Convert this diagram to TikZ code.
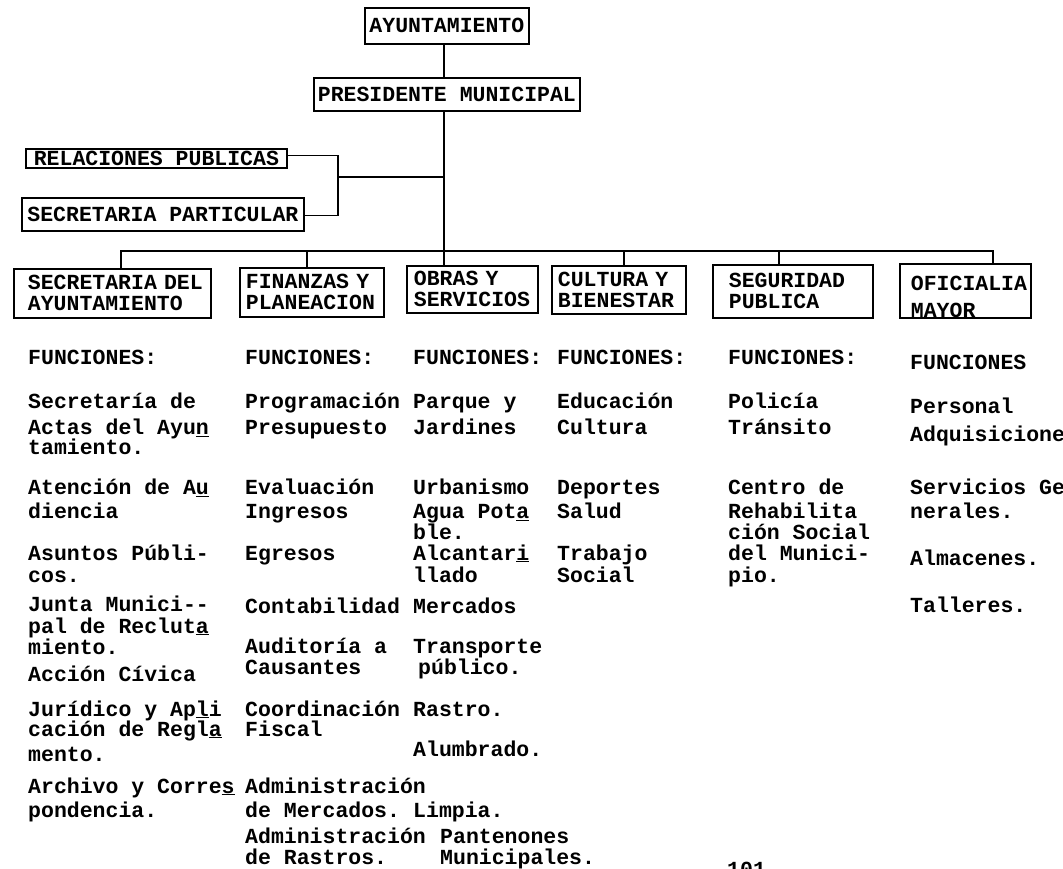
\documentclass[tikz,border=0pt]{standalone}
\usepackage{fontspec}
\newfontfamily\tw{Liberation Mono}
\newcommand{\twf}{\tw\bfseries\fontsize{21.5}{21}\selectfont}
\begin{document}
\begin{tikzpicture}[x=1pt,y=-1pt,
  ln/.style={line width=1.5pt},
  bx/.style={draw, line width=1.8pt, anchor=north west, inner sep=0pt, font=\twf},
  bx2/.style={bx, align=left},
  tx/.style={anchor=base west, inner sep=0pt, font=\twf}]
\useasboundingbox (0,0) rectangle (1063,869);
\clip (0,0) rectangle (1063,869);
\fill[white] (0,0) rectangle (1063,869);

% top boxes
\node[bx, minimum width=164pt, minimum height=36pt] (ayu) at (364,7) {AYUNTAMIENTO};
\node[bx, minimum width=266pt, minimum height=33pt] (pres) at (313,77) {PRESIDENTE MUNICIPAL};
\node[bx, minimum width=261pt, minimum height=19pt] (rel) at (25,148) {RELACIONES PUBLICAS};
\node[bx, minimum width=282pt, minimum height=33pt] (spar) at (21,197) {SECRETARIA PARTICULAR};

% department boxes
\node[bx2, minimum width=197pt, text width=197pt, minimum height=49pt] (secd) at (13,268)
  {\hspace*{14pt}SECRETARIA DEL\\\hspace*{14pt}AYUNTAMIENTO};
\node[bx2, minimum width=144pt, text width=144pt, minimum height=49pt] (fin) at (239,267)
  {\hspace*{6pt}FINANZAS Y\\\hspace*{6pt}PLANEACION};
\node[bx2, minimum width=131pt, text width=131pt, minimum height=47pt] (obr) at (406,265)
  {\hspace*{7pt}OBRAS Y\\\hspace*{7pt}SERVICIOS};
\node[bx2, minimum width=134pt, text width=134pt, minimum height=48pt] (cul) at (551,265)
  {\hspace*{6pt}CULTURA Y\\\hspace*{6pt}BIENESTAR};
\node[bx2, minimum width=160pt, text width=160pt, minimum height=53pt] (seg) at (712,264)
  {\hspace*{16pt}SEGURIDAD\\\hspace*{16pt}PUBLICA};
\node[bx2, minimum width=131pt, text width=131pt, minimum height=52pt] (ofi) at (899,263)
  {\hspace*{11pt}\rule{0pt}{27pt}OFICIALIA\\[6pt]\hspace*{11pt}MAYOR};

% connectors
\coordinate (j) at (444,251);
\coordinate (bl) at (121,251);
\coordinate (br) at (993,251);
\coordinate (dfin) at (307,251);
\coordinate (dcul) at (624,251);
\coordinate (dseg) at (779,251);
\coordinate (k) at (338,177);
\draw[ln] (ayu.south -| j) -- (pres.north -| j);
\draw[ln] (pres.south -| j) -- (obr.north -| j);
\draw[ln] (bl |- secd.north) -- (bl) -- (br) -- (br |- ofi.north);
\draw[ln] (dfin) -- (dfin |- fin.north);
\draw[ln] (dcul) -- (dcul |- cul.north);
\draw[ln] (dseg) -- (dseg |- seg.north);
\draw[ln] ([yshift=3pt]rel.east) -| (k);
\draw[ln] ([yshift=-1pt]spar.east) -| (k);
\draw[ln] (k) -- (k -| j);

% column 1
\foreach \yy/\t [count=\n] in {
 364/FUNCIONES:, 408/Secretaría de, 434.5/Actas del Ayu\underline{n}, 454.5/tamiento.,
 494.5/Atención de A\underline{u}, 518.5/diencia, 560/Asuntos Públi-, 582/cos.,
 611/Junta Munici-\kern0pt-, 633/pal de Reclut\underline{a}, 654/miento., 681/Acción Cívica,
 716/Jurídico y Ap\underline{l}i, 736/cación de Regl\underline{a}, 761/mento.,
 793/Archivo y Corre\underline{s}, 817/pondencia.}
 \node[tx] (a\n) at (28,\yy) {\t};

% column 2
\foreach \yy/\t [count=\n] in {
 364/FUNCIONES:, 408/Programación, 434.5/Presupuesto, 494.5/Evaluación, 518.5/Ingresos,
 560/Egresos, 613/Contabilidad, 653/Auditoría a, 674/Causantes, 716/Coordinación,
 736/Fiscal, 793/Administración, 817/de Mercados., 843/Administración, 864/de Rastros.}
 \node[tx] (b\n) at (245,\yy) {\t};

% column 3
\foreach \xx/\yy/\t [count=\n] in {
 413/364/FUNCIONES:, 413/408/Parque y, 413/434.5/Jardines, 413/494.5/Urbanismo,
 413/518.5/Agua Pot\underline{a}, 413/539.5/ble., 413/560/Alcantar\underline{i}, 413/582/llado,
 413/613/Mercados, 413/653/Transporte, 418/674/público., 413/716/Rastro.,
 413/756/Alumbrado., 413/817/Limpia., 440/843/Pantenones, 440/864/Municipales.}
 \node[tx] (c\n) at (\xx,\yy) {\t};

% column 4
\foreach \yy/\t [count=\n] in {
 364/FUNCIONES:, 408/Educación, 434.5/Cultura, 494.5/Deportes, 518.5/Salud,
 560/Trabajo, 582/Social}
 \node[tx] (d\n) at (557,\yy) {\t};

% column 5
\foreach \yy/\t [count=\n] in {
 364/FUNCIONES:, 408/Policía, 434.5/Tránsito, 494.5/Centro de, 518.5/Rehabilita,
 539.5/ción Social, 560/del Munici-, 582/pio.}
 \node[tx] (e\n) at (728,\yy) {\t};

% column 6
\foreach \yy/\t [count=\n] in {
 369/FUNCIONES, 413/Personal, 441/Adquisicione, 494.5/Servicios Ge, 518.5/nerales.,
 565.5/Almacenes., 612/Talleres.}
 \node[tx] (f\n) at (910,\yy) {\t};

% page number (cut off at the bottom edge)
\node[tx] (pg) at (727,876) {101};
\end{tikzpicture}
\end{document}
